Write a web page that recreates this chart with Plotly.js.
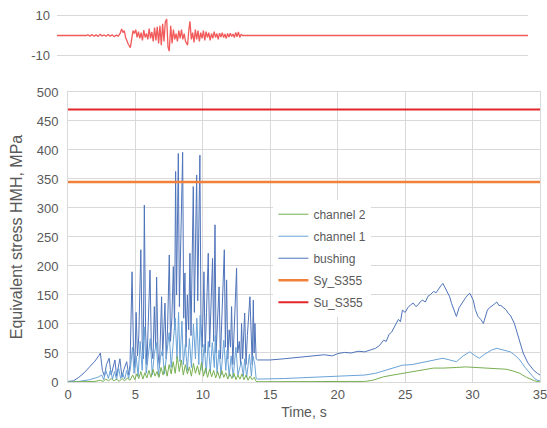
<!DOCTYPE html>
<html>
<head>
<meta charset="utf-8">
<script src="https://cdn.plot.ly/plotly-3.0.1.min.js"></script>
<style>
  html, body { margin: 0; padding: 0; background: #fff; }
  #chart { width: 547px; height: 428px; }
</style>
</head>
<body>
<div id="chart"></div>
<script>
// ---- Data ----
// Top: excitation signal
const sigT = [0, 2.2, 2.3, 2.45, 2.6, 2.75, 2.9, 3.05, 3.2, 3.35, 3.5, 3.65, 3.8, 3.95, 4.1, 4.25, 4.4, 4.55, 4.7, 4.8, 4.9, 5.0, 5.1, 5.2, 5.3, 5.45, 5.55, 5.65, 5.75, 5.85, 5.95, 6.05, 6.15, 6.25, 6.35, 6.45, 6.55, 6.65, 6.75, 6.85, 6.95, 7.05, 7.15, 7.25, 7.35, 7.45, 7.55, 7.65, 7.75, 7.85, 7.95, 8.05, 8.15, 8.25, 8.34, 8.45, 8.55, 8.65, 8.75, 8.85, 8.95, 9.05, 9.15, 9.25, 9.35, 9.45, 9.55, 9.7, 9.8, 9.88, 9.98, 10.08, 10.18, 10.28, 10.38, 10.48, 10.58, 10.68, 10.78, 10.88, 10.98, 11.08, 11.18, 11.28, 11.38, 11.48, 11.58, 11.68, 11.78, 11.88, 11.98, 12.08, 12.18, 12.28, 12.38, 12.48, 12.58, 12.68, 12.78, 12.88, 12.98, 13.08, 13.18, 13.28, 13.38, 13.48, 13.58, 13.68, 13.8, 35];
const sigV = [0, 0, 0.4, -0.3, 0.5, -0.4, 0.3, -0.5, 0.6, -0.2, 0.3, -0.4, 0.5, -0.3, 0.4, -0.6, 0.2, -0.3, 1.2, 3.4, 1.5, 2.5, -1, -3, -4.5, -6.2, -2, 2.5, 1, 3, -1, 2, -1.5, 1.5, -2.5, 2.8, -1, 1, -2, 3.5, -1.5, 1.8, -3, 4, -2.5, 4.5, -4, 5, -5, 6, -3, 7, 8.4, -6, -8, 5, -4, 3, -2, 1, -3, 2.5, -1.5, 3, -2, 1, -3, -5, 3, 7.2, -2, 1.5, -3.5, 3, -2, 2.5, -3, 1.5, -1.5, 2.5, -2.5, 2, -1, 1.5, -2.5, 1, -1.5, 2, -1, 1, -2, 1.2, -0.8, 1.5, -1, 0.8, -1.5, 1, -0.8, 1.2, -0.5, 0.8, -1, 1.5, -0.6, 1.8, -1, 0.5, 0, 0];

// Main: equivalent stress (MPa)
const bushT = [0, 0.4, 0.8, 1.2, 1.6, 2.0, 2.3, 2.4, 2.55, 2.7, 2.85, 3.05, 3.2, 3.35, 3.48, 3.6, 3.72, 3.85, 4.0, 4.15, 4.35, 4.5, 4.6, 4.75, 4.85, 4.95, 5.05, 5.15, 5.25, 5.4, 5.5, 5.58, 5.66, 5.75, 5.85, 5.95, 6.08, 6.18, 6.3, 6.4, 6.5, 6.57, 6.67, 6.78, 6.86, 6.94, 7.02, 7.1, 7.19, 7.28, 7.38, 7.51, 7.6, 7.7, 7.81, 7.9, 7.98, 8.05, 8.12, 8.18, 8.26, 8.33, 8.42, 8.5, 8.58, 8.67, 8.75, 8.85, 8.95, 9.04, 9.12, 9.2, 9.29, 9.37, 9.45, 9.54, 9.62, 9.7, 9.78, 9.86, 9.95, 10.08, 10.17, 10.27, 10.4, 10.5, 10.6, 10.72, 10.8, 10.9, 10.98, 11.08, 11.2, 11.3, 11.42, 11.59, 11.67, 11.76, 11.85, 11.95, 12.05, 12.13, 12.22, 12.32, 12.5, 12.58, 12.7, 12.8, 12.87, 12.95, 13.1, 13.2, 13.3, 13.49, 13.58, 13.66, 13.74, 13.8, 13.86, 13.95, 14.05, 15, 16, 17, 18, 19, 19.6, 20, 20.5, 21, 21.5, 22, 22.4, 22.8, 23.1, 23.4, 23.6, 23.8, 24.0, 24.2, 24.35, 24.5, 24.65, 24.8, 25.0, 25.2, 25.4, 25.6, 25.8, 26.0, 26.15, 26.3, 26.5, 26.7, 26.9, 27.1, 27.3, 27.5, 27.65, 27.8, 28.0, 28.15, 28.3, 28.45, 28.6, 28.8, 29.0, 29.2, 29.35, 29.5, 29.65, 29.8, 30.05, 30.2, 30.4, 30.6, 30.8, 30.95, 31.1, 31.25, 31.4, 31.6, 31.8, 31.95, 32.1, 32.3, 32.5, 32.65, 32.8, 33.1, 33.4, 33.75, 34.1, 34.5, 34.8, 35];
const bushV = [1, 2, 8, 16, 26, 36, 46, 50, 20, 10, 30, 41, 12, 25, 38, 10, 28, 40, 8, 22, 35, 12, 30, 190, 60, 25, 120, 45, 80, 228, 70, 40, 305, 90, 30, 110, 193, 60, 40, 130, 60, 181, 50, 25, 100, 147, 45, 80, 136, 40, 90, 219, 70, 110, 199, 90, 363, 150, 280, 394, 130, 220, 340, 396, 110, 188, 60, 150, 90, 222, 80, 180, 337, 120, 250, 357, 140, 240, 391, 100, 60, 190, 50, 120, 222, 60, 130, 213, 70, 271, 50, 110, 164, 40, 130, 228, 60, 176, 40, 90, 60, 130, 30, 100, 196, 50, 70, 30, 101, 40, 119, 30, 80, 147, 60, 30, 141, 50, 101, 40, 38, 38, 40, 42, 44, 47, 45, 49, 51, 50, 53, 52, 55, 58, 63, 72, 70, 82, 86, 95, 100, 108, 104, 124, 120, 128, 133, 136, 130, 134, 139, 141, 138, 148, 151, 156, 154, 162, 166, 170, 160, 152, 147, 135, 125, 113, 128, 136, 140, 146, 150, 153, 141, 125, 113, 108, 101, 115, 124, 128, 130, 134, 138, 132, 132, 128, 124, 118, 115, 101, 78, 50, 33, 21, 15, 12];

const ch1T = [0, 0.8, 1.6, 2.2, 2.5, 2.65, 2.8, 3.0, 3.15, 3.3, 3.45, 3.6, 3.75, 3.9, 4.05, 4.2, 4.35, 4.5, 4.65, 4.78, 4.9, 5.05, 5.2, 5.35, 5.5, 5.65, 5.8, 5.95, 6.1, 6.25, 6.4, 6.55, 6.7, 6.85, 7.0, 7.15, 7.3, 7.5, 7.65, 7.8, 7.95, 8.08, 8.2, 8.3, 8.45, 8.55, 8.7, 8.85, 9.0, 9.15, 9.3, 9.45, 9.55, 9.7, 9.8, 9.95, 10.1, 10.25, 10.4, 10.55, 10.7, 10.85, 10.92, 11.05, 11.2, 11.35, 11.55, 11.7, 11.8, 11.95, 12.1, 12.25, 12.45, 12.6, 12.85, 13.0, 13.1, 13.25, 13.45, 13.6, 13.72, 13.85, 13.95, 14.05, 15, 16, 17, 18, 19, 20, 21, 22, 22.8, 23.5, 24.2, 24.8, 25.5, 26.2, 27.0, 27.8, 28.3, 28.8, 29.3, 29.8, 30.2, 30.5, 30.9, 31.4, 31.8, 32.3, 32.8, 33.2, 33.5, 33.9, 34.25, 34.6, 34.8, 35];
const ch1V = [0, 1, 4, 8, 12, 4, 20, 6, 22, 5, 18, 4, 24, 6, 15, 5, 20, 6, 28, 60, 15, 45, 10, 70, 20, 95, 15, 50, 75, 12, 48, 68, 10, 42, 55, 14, 45, 85, 25, 70, 110, 40, 120, 35, 105, 30, 65, 20, 75, 25, 100, 40, 110, 30, 115, 20, 65, 15, 70, 18, 68, 25, 80, 15, 55, 12, 72, 20, 55, 10, 45, 8, 60, 12, 35, 10, 40, 8, 48, 10, 45, 30, 6, 5, 5, 6, 7, 8, 9, 10, 11, 12, 15, 20, 25, 29, 30, 33, 37, 41, 38, 35, 45, 52, 45, 41, 48, 55, 58, 55, 52, 45, 38, 25, 15, 6, 3, 2];

const ch2T = [0, 1, 2, 2.4, 2.6, 2.8, 3.0, 3.2, 3.4, 3.6, 3.8, 4.0, 4.2, 4.4, 4.6, 4.8, 4.95, 5.1, 5.25, 5.4, 5.55, 5.7, 5.85, 6.0, 6.15, 6.3, 6.45, 6.6, 6.75, 6.9, 7.05, 7.2, 7.35, 7.5, 7.65, 7.8, 7.95, 8.1, 8.25, 8.4, 8.55, 8.7, 8.85, 9.0, 9.15, 9.3, 9.45, 9.6, 9.75, 9.9, 10.05, 10.2, 10.35, 10.5, 10.65, 10.8, 10.95, 11.1, 11.25, 11.4, 11.55, 11.7, 11.85, 12.0, 12.15, 12.3, 12.45, 12.6, 12.75, 12.9, 13.05, 13.2, 13.35, 13.5, 13.65, 13.8, 13.95, 14.1, 18, 22, 22.6, 23.4, 24.1, 24.8, 25.4, 26.0, 26.5, 27.1, 27.8, 28.3, 28.8, 29.5, 30.2, 30.8, 31.3, 32.0, 32.5, 33.0, 33.5, 34.0, 34.6, 35];
const ch2V = [0, 0.5, 1, 3, 1, 5, 2, 6, 2, 5, 1, 6, 2, 7, 3, 12, 4, 14, 6, 18, 5, 16, 7, 20, 8, 22, 10, 18, 8, 25, 12, 28, 10, 30, 14, 35, 15, 44, 18, 38, 12, 30, 14, 26, 10, 32, 15, 28, 12, 34, 10, 24, 8, 22, 9, 20, 7, 18, 6, 20, 8, 16, 5, 14, 6, 15, 4, 12, 5, 14, 4, 12, 3, 10, 4, 8, 1, 0.5, 0.5, 1, 3, 9, 12, 15, 18, 20, 22, 24, 24, 25, 25, 26, 25, 24, 24, 23, 22, 19, 15, 8, 2, 0];

// Material limits (MPa)
const limT = [0, 35];
const syS355 = [345, 345];
const suS355 = [470, 470];

// Axis ticks
const yTicks = [0, 50, 100, 150, 200, 250, 300, 350, 400, 450, 500];
const xTicks = [0, 5, 10, 15, 20, 25, 30, 35];
const sigTicks = [-10, 10];
const sigTickText = ["-10", "10"];

// ---- Chart ----
const FONT = "Liberation Sans, Arial, sans-serif";
const GRAY = "#595959";
const GRID = "#d9d9d9";

const traces = [
  { x: sigT, y: sigV, xaxis: "x2", yaxis: "y2", type: "scatter", mode: "lines",
    line: { color: "#f25a5a", width: 1.3 }, showlegend: false, hoverinfo: "skip" },
  { x: bushT, y: bushV, type: "scatter", mode: "lines", name: "bushing", legendrank: 3, legendgroup: "g3",
    line: { color: "#4f74ba", width: 1 } },
  { x: ch1T, y: ch1V, type: "scatter", mode: "lines", name: "channel 1", legendrank: 2, legendgroup: "g2",
    line: { color: "#6aa3d8", width: 1 } },
  { x: ch2T, y: ch2V, type: "scatter", mode: "lines", name: "channel 2", legendrank: 1, legendgroup: "g1",
    line: { color: "#77b050", width: 1 } },
  { x: limT, y: syS355, type: "scatter", mode: "lines", name: "Sy_S355", legendrank: 4, legendgroup: "g4",
    line: { color: "#f0803a", width: 2.5 } },
  { x: limT, y: suS355, type: "scatter", mode: "lines", name: "Su_S355", legendrank: 5, legendgroup: "g5",
    line: { color: "#e3262a", width: 2 } }
];

const layout = {
  width: 547, height: 428,
  margin: { l: 57, r: 7, t: 10, b: 46 },
  paper_bgcolor: "#fff", plot_bgcolor: "#fff",
  font: { family: FONT, color: GRAY, size: 12 },
  showlegend: true,
  legend: {
    x: 0.448, y: 0.49, xanchor: "left", yanchor: "top",
    bgcolor: "#ffffff", borderwidth: 0,
    font: { family: FONT, size: 12, color: GRAY },
    traceorder: "grouped", tracegroupgap: 3
  },
  xaxis: {
    domain: [0.0228, 1], range: [0, 35], tickvals: xTicks,
    showgrid: true, gridcolor: GRID, gridwidth: 1, zeroline: false,
    showline: true, linecolor: GRID, mirror: true,
    ticklabeloverflow: "allow",
    tickfont: { size: 13, color: GRAY },
    title: { text: "Time, s", font: { size: 14, color: GRAY }, standoff: 6 },
    anchor: "y"
  },
  yaxis: {
    domain: [0, 0.7796], range: [0, 500], tickvals: yTicks,
    showgrid: true, gridcolor: GRID, gridwidth: 1, zeroline: false,
    showline: true, linecolor: GRID, mirror: true,
    tickfont: { size: 13, color: GRAY }, ticklabelstandoff: 6,
    title: { text: "Equivalent stress HMH, MPa", font: { size: 16, color: GRAY }, standoff: 10 },
    anchor: "x"
  },
  xaxis2: {
    domain: [0, 0.9752], range: [0, 35], anchor: "y2",
    showgrid: false, zeroline: false, showticklabels: false, showline: false
  },
  yaxis2: {
    domain: [0.8683, 0.9946], range: [-12, 12], anchor: "x2",
    tickvals: sigTicks, ticktext: sigTickText,
    showgrid: true, gridcolor: GRID, gridwidth: 1, zeroline: false, showline: false,
    tickfont: { size: 13, color: GRAY }, ticklabelstandoff: 6
  }
};

Plotly.newPlot("chart", traces, layout, { displayModeBar: false, staticPlot: true });
</script>
</body>
</html>
